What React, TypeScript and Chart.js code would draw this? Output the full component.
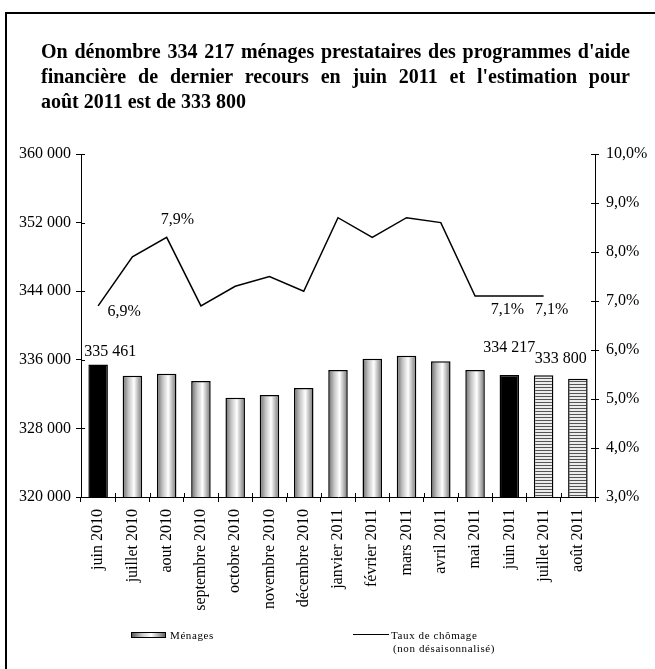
import React, { useEffect, useRef } from "react";
import { Chart, registerables } from "chart.js";

Chart.register(...registerables);

// ---------- DATA ----------
const categories = [
  "juin 2010", "juillet 2010", "aout 2010", "septembre 2010", "octobre 2010",
  "novembre 2010", "décembre 2010", "janvier 2011", "février 2011", "mars 2011",
  "avril 2011", "mai 2011", "juin 2011", "juillet 2011", "août 2011",
];
const menages = [
  335461, 334150, 334380, 333530, 331580, 331900, 332700, 334800,
  336130, 336480, 335830, 334800, 334217, 334200, 333800,
];
const chomage = [
  6.9, 7.9, 8.3, 6.9, 7.3, 7.5, 7.2, 8.7, 8.3, 8.7, 8.6, 7.1, 7.1, 7.1, null,
];
// "juin" = black bar, "mois" = shaded bar, "estimation" = striped bar
const barKinds = [
  "juin", "mois", "mois", "mois", "mois", "mois", "mois", "mois",
  "mois", "mois", "mois", "mois", "juin", "estimation", "estimation",
];
const barLabelIndexes = [0, 12, 14];
const lineLabelIndexes = [0, 1, 12, 13];
const leftMin = 320000;
const leftMax = 360000;
const leftStep = 8000;
const rightMin = 3;
const rightMax = 10;
const rightStep = 1;

const titleLines = [
  "On dénombre 334 217 ménages prestataires des programmes d'aide",
  "financière de dernier recours en juin 2011 et l'estimation pour",
  "août 2011 est de 333 800",
];
const legendBar = "Ménages";
const legendLine1 = "Taux de chômage";
const legendLine2 = "(non désaisonnalisé)";

// ---------- STYLE ----------
const FONT = '"Liberation Serif", "Times New Roman", serif';
const BAR_PCT = 0.57;
const barLabelOffsets = [[12, -13], [0, -27], [-17, -20]];
const lineLabelOffsets = [[26, 6], [45, -37], [-2, 14], [8, 14]];

const fmtInt = (n: number) => String(n).replace(/\B(?=(\d{3})+(?!\d))/g, " ");
const fmtPct = (v: number) => v.toFixed(1).replace(".", ",") + "%";

let stripePattern: CanvasPattern | null = null;
function getStripes(ctx: CanvasRenderingContext2D) {
  if (stripePattern) return stripePattern;
  const c = document.createElement("canvas");
  c.width = 4;
  c.height = 3;
  const g = c.getContext("2d")!;
  g.fillStyle = "#ececec";
  g.fillRect(0, 0, 4, 3);
  g.fillStyle = "#555555";
  g.fillRect(0, 0, 4, 1);
  stripePattern = ctx.createPattern(c, "repeat");
  return stripePattern;
}

const labelPlugin = {
  id: "customLabels",
  afterDatasetsDraw(chart: any) {
    const ctx = chart.ctx as CanvasRenderingContext2D;
    ctx.save();
    ctx.font = `16px ${FONT}`;
    ctx.fillStyle = "#000";
    ctx.textAlign = "center";
    ctx.textBaseline = "middle";
    const barMeta = chart.getDatasetMeta(0);
    barLabelIndexes.forEach((i, k) => {
      const el = barMeta.data[i];
      const [dx, dy] = barLabelOffsets[k];
      ctx.fillText(fmtInt(menages[i]), el.x + dx, el.y + dy);
    });
    const lineMeta = chart.getDatasetMeta(1);
    lineLabelIndexes.forEach((i, k) => {
      const el = lineMeta.data[i];
      const [dx, dy] = lineLabelOffsets[k];
      ctx.fillText(fmtPct(chomage[i] as number), el.x + dx, el.y + dy);
    });
    ctx.restore();
  },
  afterDraw(chart: any) {
    // inner halves of the tick marks
    const ctx = chart.ctx as CanvasRenderingContext2D;
    const a = chart.chartArea;
    ctx.save();
    ctx.strokeStyle = "#000";
    ctx.lineWidth = 1;
    ctx.beginPath();
    const y = chart.scales.y;
    y.ticks.forEach((t: any) => {
      const py = Math.round(y.getPixelForValue(t.value)) + 0.5;
      ctx.moveTo(a.left, py);
      ctx.lineTo(a.left + 4, py);
    });
    const y1 = chart.scales.y1;
    y1.ticks.forEach((t: any) => {
      const py = Math.round(y1.getPixelForValue(t.value)) + 0.5;
      ctx.moveTo(a.right - 4, py);
      ctx.lineTo(a.right, py);
    });
    const n = categories.length;
    for (let i = 0; i <= n; i++) {
      const px = Math.round(a.left + (i * (a.right - a.left)) / n) + 0.5;
      ctx.moveTo(px, a.bottom - 4);
      ctx.lineTo(px, a.bottom);
    }
    ctx.stroke();
    ctx.restore();
  },
};

export default function App() {
  const ref = useRef<HTMLCanvasElement | null>(null);

  useEffect(() => {
    const canvas = ref.current!;
    const chart = new Chart(canvas, {
      type: "bar",
      data: {
        labels: categories,
        datasets: [
          {
            type: "bar",
            label: legendBar,
            data: menages,
            yAxisID: "y",
            order: 2,
            barPercentage: BAR_PCT,
            categoryPercentage: 1,
            borderColor: "#000",
            borderWidth: 1.5,
            borderSkipped: "bottom",
            backgroundColor: (c: any) => {
              if (c.type !== "data") return "#999";
              const kind = barKinds[c.dataIndex];
              const chartObj = c.chart;
              if (kind === "juin") return "#000";
              if (kind === "estimation") return getStripes(chartObj.ctx);
              const xs = chartObj.scales?.x;
              const a = chartObj.chartArea;
              if (!xs || !a) return "#ccc";
              const cx = xs.getPixelForValue(c.dataIndex);
              const w = ((a.right - a.left) / categories.length) * BAR_PCT;
              const g = chartObj.ctx.createLinearGradient(cx - w / 2, 0, cx + w / 2, 0);
              g.addColorStop(0, "#6a6a6a");
              g.addColorStop(0.3, "#c4c4c4");
              g.addColorStop(0.58, "#ffffff");
              g.addColorStop(1, "#707070");
              return g;
            },
          } as any,
          {
            type: "line",
            label: legendLine1,
            data: chomage,
            yAxisID: "y1",
            order: 1,
            borderColor: "#000",
            borderWidth: 1.5,
            pointRadius: 0,
            tension: 0,
            spanGaps: false,
          } as any,
        ],
      },
      options: {
        responsive: false,
        animation: false,
        layout: { padding: { top: 154, left: 0, right: 0, bottom: 0 } },
        plugins: {
          legend: { display: false },
          tooltip: { enabled: false },
        },
        scales: {
          x: {
            offset: true,
            grid: {
              offset: true,
              drawOnChartArea: false,
              drawTicks: true,
              tickLength: 5,
              color: "#000",
            },
            border: { display: true, color: "#000", width: 1 },
            ticks: {
              autoSkip: false,
              maxRotation: 90,
              minRotation: 90,
              padding: 7,
              color: "#000",
              font: { family: FONT, size: 16 },
            },
            afterFit: (s: any) => {
              s.height = 172;
            },
          },
          y: {
            position: "left",
            min: leftMin,
            max: leftMax,
            ticks: {
              stepSize: leftStep,
              padding: 5,
              color: "#000",
              font: { family: FONT, size: 16 },
              callback: (v: any) => fmtInt(Number(v)),
            },
            grid: {
              drawOnChartArea: false,
              drawTicks: true,
              tickLength: 5,
              color: "#000",
            },
            border: { display: true, color: "#000", width: 1 },
            afterFit: (s: any) => {
              s.width = 81;
            },
          },
          y1: {
            position: "right",
            min: rightMin,
            max: rightMax,
            ticks: {
              stepSize: rightStep,
              padding: 7,
              color: "#000",
              font: { family: FONT, size: 16 },
              callback: (v: any) => fmtPct(Number(v)),
            },
            grid: {
              drawOnChartArea: false,
              drawTicks: true,
              tickLength: 4,
              color: "#000",
            },
            border: { display: true, color: "#000", width: 1 },
            afterFit: (s: any) => {
              s.width = 60;
            },
          },
        },
      },
      plugins: [labelPlugin],
    });
    return () => chart.destroy();
  }, []);

  const textBase: React.CSSProperties = {
    position: "absolute",
    fontFamily: FONT,
    fontSize: 11,
    lineHeight: "13px",
    letterSpacing: "0.6px",
    color: "#000",
    whiteSpace: "nowrap",
  };

  return (
    <div
      style={{
        position: "absolute",
        left: 0,
        top: 0,
        width: 655,
        height: 669,
        overflow: "hidden",
        background: "#fff",
      }}
    >
      <div
        style={{
          position: "absolute",
          left: 5,
          top: 12,
          width: 700,
          height: 700,
          border: "2px solid #000",
        }}
      />
      <canvas
        ref={ref}
        width={655}
        height={669}
        style={{ position: "absolute", left: 0, top: 0, width: 655, height: 669 }}
      />
      <div
        style={{
          position: "absolute",
          left: 41,
          top: 39,
          width: 589,
          fontFamily: FONT,
          fontWeight: "bold",
          fontSize: 20,
          lineHeight: "25px",
          color: "#000",
        }}
      >
        {titleLines.map((l, i) => (
          <div
            key={i}
            style={{
              textAlign: i < titleLines.length - 1 ? "justify" : "left",
              textAlignLast: i < titleLines.length - 1 ? "justify" : "left",
              whiteSpace: "nowrap",
            }}
          >
            {l}
          </div>
        ))}
      </div>
      <div
        style={{
          position: "absolute",
          left: 131,
          top: 632,
          width: 35,
          height: 6,
          boxSizing: "border-box",
          border: "1px solid #000",
          background: "linear-gradient(to right, #5a5a5a, #c8c8c8 30%, #ffffff 58%, #666666)",
        }}
      />
      <div style={{ ...textBase, left: 170, top: 628.5 }}>{legendBar}</div>
      <div
        style={{
          position: "absolute",
          left: 353,
          top: 634,
          width: 36,
          height: 0,
          borderTop: "1.5px solid #000",
        }}
      />
      <div style={{ ...textBase, left: 391, top: 628.5 }}>{legendLine1}</div>
      <div style={{ ...textBase, left: 393, top: 641.5 }}>{legendLine2}</div>
    </div>
  );
}
